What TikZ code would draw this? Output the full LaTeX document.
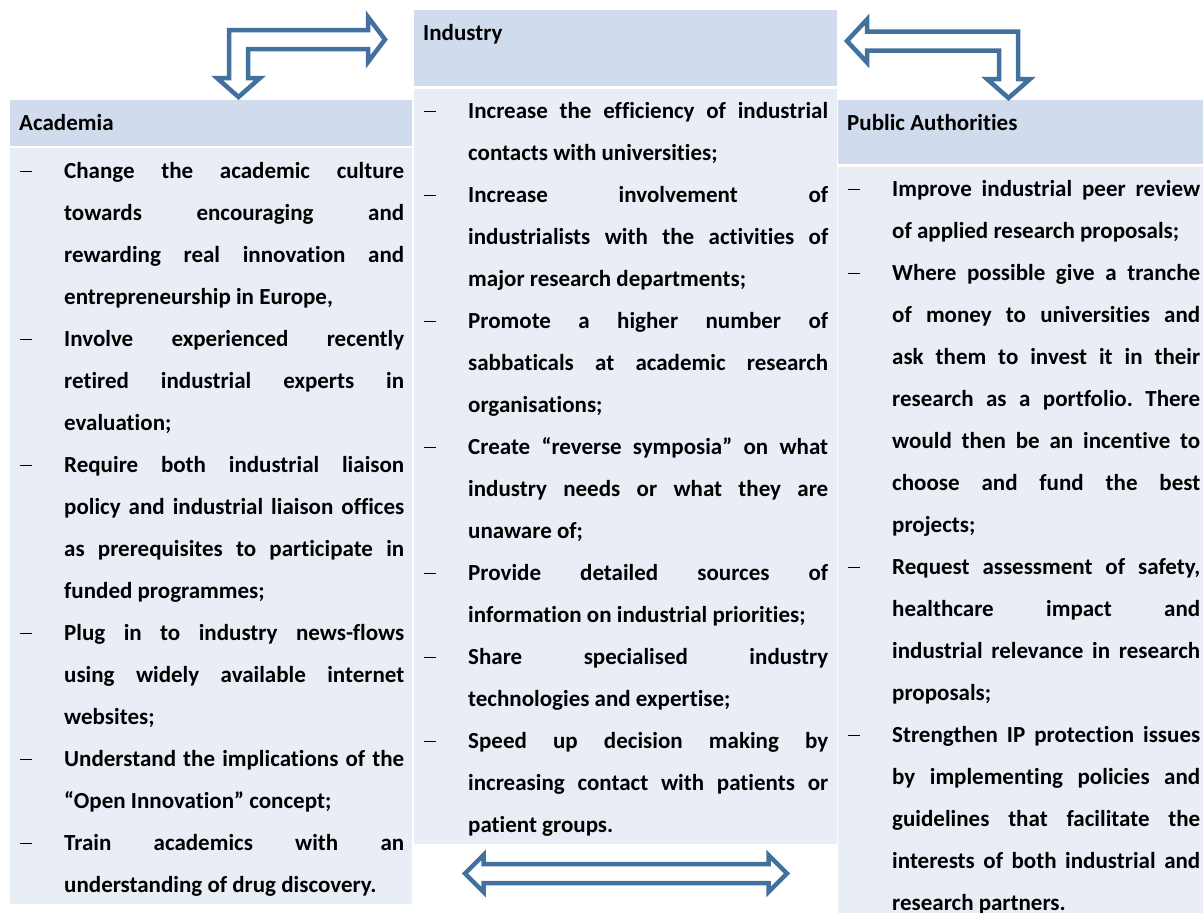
\documentclass[tikz,border=0pt]{standalone}
\usepackage{fontspec}
\setmainfont{Carlito}[Ligatures=NoCommon]
\usetikzlibrary{positioning}
\definecolor{headblue}{RGB}{208,219,237}
\definecolor{bodyblue}{RGB}{233,237,246}
\definecolor{arrowblue}{RGB}{65,113,156}
\newcommand\hang{\hangindent=44pt\hangafter=1\makebox[44pt][l]{\rule[6.5pt]{12pt}{1.2pt}}}
\newcommand\itm{\par\noindent\hang}
\tikzset{
	cellfont/.style={font=\fontsize{23}{42}\selectfont\bfseries}
}

\begin{document}
\begin{tikzpicture}[x=1pt, y=-1pt,
     H/.style = {fill=headblue, inner sep=0pt, anchor=north west},
     B/.style = {fill=bodyblue, inner sep=0pt},
     L/.style = {cellfont, anchor=base west, inner sep=0pt},
     T/.style = {cellfont, anchor=base west, inner sep=0pt, align=justify,
                 execute at begin node={\tolerance=10000\hbadness=10000\frenchspacing}},
   blk/.style = {draw=arrowblue, line width=4.5pt, fill=white, line join=miter}
                    ]
\useasboundingbox (0,0) rectangle (1203,913);

\node[H, minimum width=402pt, minimum height=46pt] (acadH) at (10,100) {};
\node[B, minimum width=402pt, minimum height=756pt, below=1.5pt of acadH] (acadB) {};
\node[H, minimum width=423pt, minimum height=76pt] (indH) at (414,10) {};
\node[B, minimum width=423pt, minimum height=755pt, below=2pt of indH] (indB) {};
\node[H, minimum width=365pt, minimum height=64pt] (pubH) at (838,100) {};
\node[B, minimum width=365pt, minimum height=747pt, below=2pt of pubH] (pubB) {};

\node[L] (acadL) at ([xshift=9pt,yshift=-30.5pt]acadH.north west) {Academia};
\node[L] (indL)  at ([xshift=9pt,yshift=-30.5pt]indH.north west)  {Industry};
\node[L] (pubL)  at ([xshift=9pt,yshift=-30.5pt]pubH.north west)  {Public Authorities};

\node[T, text width=384pt] (acadT) at ([xshift=10pt,yshift=-30.5pt]acadB.north west) {%
\hang Change the academic culture\linebreak
towards encouraging and\linebreak
rewarding real innovation and\linebreak
entrepreneurship in Europe,
\itm Involve experienced recently\linebreak
retired industrial experts in\linebreak
evaluation;
\itm Require both industrial liaison\linebreak
policy and industrial liaison offices\linebreak
as prerequisites to participate in\linebreak
funded programmes;
\itm Plug in to industry news-flows\linebreak
using widely available internet\linebreak
websites;
\itm Understand the implications of the\linebreak
“Open Innovation” concept;
\itm Train academics with an\linebreak
understanding of drug discovery.\par};

\node[T, text width=404pt] (indT) at ([xshift=10pt,yshift=-30.5pt]indB.north west) {%
\hang Increase the efficiency of industrial\linebreak
contacts with universities;
\itm Increase involvement of\linebreak
industrialists with the activities of\linebreak
major research departments;
\itm Promote a higher number of\linebreak
sabbaticals at academic research\linebreak
organisations;
\itm Create “reverse symposia” on what\linebreak
industry needs or what they are\linebreak
unaware of;
\itm Provide detailed sources of\linebreak
information on industrial priorities;
\itm Share specialised industry\linebreak
technologies and expertise;
\itm Speed up decision making by\linebreak
increasing contact with patients or\linebreak
patient groups.\par};

\node[T, text width=352pt] (pubT) at ([xshift=10pt,yshift=-30.5pt]pubB.north west) {%
\hang Improve industrial peer review\linebreak
of applied research proposals;
\itm Where possible give a tranche\linebreak
of money to universities and\linebreak
ask them to invest it in their\linebreak
research as a portfolio. There\linebreak
would then be an incentive to\linebreak
choose and fund the best\linebreak
projects;
\itm Request assessment of safety,\linebreak
healthcare impact and\linebreak
industrial relevance in research\linebreak
proposals;
\itm Strengthen IP protection issues\linebreak
by implementing policies and\linebreak
guidelines that facilitate the\linebreak
interests of both industrial and\linebreak
research partners.\par};

\draw[blk] (385,39.5) -- (368,17) -- (368,30) -- (229,30) -- (229,78) -- (217,78)
           -- (238.5,97) -- (260,78) -- (248,78) -- (248,49) -- (368,49) -- (368,62) -- cycle;
\draw[blk] (847,41) -- (867,19.5) -- (867,31.5) -- (1018,31.5) -- (1018,79) -- (1030,79)
           -- (1008.5,98) -- (987,79) -- (999,79) -- (999,50.5) -- (867,50.5) -- (867,62.5) -- cycle;
\draw[blk] (465,873.5) -- (483.5,855) -- (483.5,864) -- (768.5,864) -- (768.5,855) -- (787,873.5)
           -- (768.5,892) -- (768.5,883) -- (483.5,883) -- (483.5,892) -- cycle;
\end{tikzpicture}
\end{document}
